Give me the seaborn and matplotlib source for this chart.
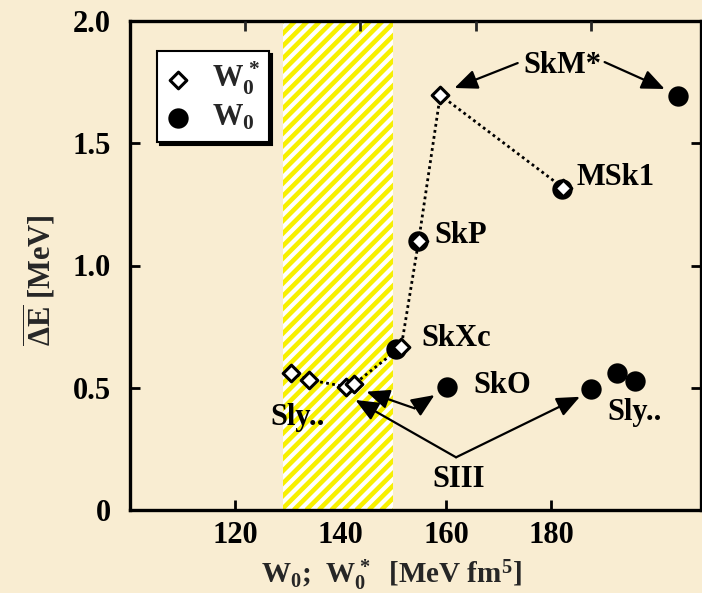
import matplotlib
matplotlib.use('Agg')
import matplotlib.pyplot as plt
import seaborn as sns
import numpy as np
import pandas as pd
from matplotlib.collections import LineCollection
from matplotlib.transforms import IdentityTransform, Bbox, TransformedBbox

# ---------------- data ----------------
w0star_x = [130.6, 134.0, 141.1, 142.5, 151.5, 154.8, 158.9, 182.2]
w0star_y = [0.562, 0.532, 0.504, 0.514, 0.668, 1.101, 1.697, 1.318]
w0_x = [150.5, 154.6, 182.0, 160.1, 204.0, 187.6, 192.5, 195.9]
w0_y = [0.658, 1.100, 1.312, 0.502, 1.695, 0.496, 0.559, 0.529]
band_range = [129.0, 150.0]
xticks = [120, 140, 160, 180]
yticks = [0, 0.5, 1.0, 1.5, 2.0]
ytick_labels = ['0', '0.5', '1.0', '1.5', '2.0']
top_ticks = [121.8, 143.6, 165.7, 187.5]
xlim = [100, 208.4]
ylim = [0, 2.0]

BG = '#F9EDD2'

sns.set_style('ticks')
plt.rcParams['font.family'] = ['Liberation Serif', 'DejaVu Serif']
plt.rcParams['font.weight'] = 'bold'
plt.rcParams['mathtext.fontset'] = 'custom'
plt.rcParams['mathtext.rm'] = 'Liberation Serif:bold'
plt.rcParams['mathtext.it'] = 'Liberation Serif:bold'
plt.rcParams['mathtext.bf'] = 'Liberation Serif:bold'

fig = plt.figure(figsize=(7.02, 5.93), dpi=100, facecolor=BG)
ax = fig.add_axes([130 / 702, 83 / 593, 571 / 702, 489 / 593])
ax.set_facecolor(BG)
ax.set_xlim(*xlim)
ax.set_ylim(*ylim)

# hatched band
band = ax.axvspan(band_range[0], band_range[1], facecolor='white', lw=0, zorder=1)
p0 = ax.transData.transform((band_range[0], ylim[0]))
p1 = ax.transData.transform((band_range[1], ylim[1]))
H = p1[1] - p0[1]
period = 12.5
segs = []
u = p0[0] - H
while u < p1[0] + period:
    segs.append([(u, p0[1]), (u + H, p1[1])])
    u += period
lc = LineCollection(segs, colors='#F7F000', linewidths=3.3, transform=IdentityTransform(), zorder=1.5)
ax.add_collection(lc, autolim=False)
lc.set_clip_box(TransformedBbox(Bbox([[band_range[0], ylim[0]], [band_range[1], ylim[1]]]), ax.transData))
lc.set_clip_path(None)
lc.set_clip_on(True)

df_star = pd.DataFrame({'x': w0star_x, 'y': w0star_y})
df_w0 = pd.DataFrame({'x': w0_x, 'y': w0_y})

sns.lineplot(data=df_star, x='x', y='y', sort=False, ax=ax, color='black',
             linestyle=(0, (1, 1.2)), lw=2.0, zorder=2, legend=False)
sns.scatterplot(data=df_w0, x='x', y='y', ax=ax, marker='o', s=215, color='black',
                edgecolor='black', linewidth=0, zorder=3, label=r'$W_0$')
sns.scatterplot(data=df_star, x='x', y='y', ax=ax, marker='D', s=72, color='white',
                edgecolor='black', linewidth=2.2, zorder=4, label=r'$W_0^*$')

# annotations
tkw = dict(fontsize=22, fontweight='bold', color='black', zorder=6)
ax.text(182.0, 1.820, 'SkM*', ha='center', va='center', **tkw)
ax.text(184.8, 1.358, 'MSk1', ha='left', va='center', **tkw)
ax.text(157.8, 1.121, 'SkP', ha='left', va='center', **tkw)
ax.text(155.4, 0.703, 'SkXc', ha='left', va='center', **tkw)
ax.text(165.2, 0.511, 'SkO', ha='left', va='center', **tkw)
ax.text(131.9, 0.380, 'Sly..', ha='center', va='center', **tkw)
ax.text(195.8, 0.397, 'Sly..', ha='center', va='center', **tkw)
ax.text(162.4, 0.123, 'SIII', ha='center', va='center', **tkw)

akw = dict(arrowstyle='-|>,head_length=0.7,head_width=0.3', color='black', lw=1.6,
           shrinkA=0, shrinkB=0, mutation_scale=20)
arrows = [
    ((173.6, 1.828), (161.6, 1.726)),
    ((190.1, 1.832), (201.5, 1.722)),
    ((161.9, 0.2155), (142.8, 0.450)),
    ((161.9, 0.2155), (185.4, 0.463)),
    ((154.0, 0.416), (144.9, 0.484)),
    ((154.0, 0.416), (157.8, 0.470)),
]
for start, tip in arrows:
    ax.annotate('', xy=tip, xytext=start, arrowprops=akw, zorder=5)

# axes styling
ax.set_xticks(xticks)
ax.set_xticklabels([str(t) for t in xticks])
ax.set_yticks(yticks)
ax.set_yticklabels(ytick_labels)
ax.tick_params(axis='both', direction='in', length=7, width=2, labelsize=22,
               colors='black')
ax.tick_params(axis='y', right=True, pad=14)
ax.tick_params(axis='x', pad=8)
for lab in ax.get_xticklabels() + ax.get_yticklabels():
    lab.set_fontweight('bold')
for s in ax.spines.values():
    s.set_linewidth(2.4)
    s.set_color('black')
    s.set_visible(True)

ax2 = ax.twiny()
ax2.set_xlim(*xlim)
ax2.set_xticks(top_ticks)
ax2.set_xticklabels([])
ax2.tick_params(axis='x', direction='in', length=7, width=2)
for s in ax2.spines.values():
    s.set_visible(False)

ax.set_xlabel(r'$W_0$;  $W_0^*$  [MeV fm$^5$]', fontsize=21, fontweight='bold')
ax.xaxis.set_label_coords(0.458, -0.133)
ax.xaxis.label.set_va('center')
ax.set_ylabel(r'$\overline{\Delta E}$ [MeV]', fontsize=22, fontweight='bold')
ax.yaxis.set_label_coords(-0.159, 0.470)
ax.yaxis.label.set_va('center')

# legend
h, l = ax.get_legend_handles_labels()
order = [l.index(r'$W_0^*$'), l.index(r'$W_0$')]
leg = ax.legend([h[i] for i in order], [l[i] for i in order], loc='upper left',
                bbox_to_anchor=(0.047, 0.939), borderaxespad=0, fancybox=False,
                shadow={'color': 'black', 'alpha': 1}, framealpha=1,
                facecolor='white', edgecolor='black', fontsize=22,
                handletextpad=0.7, labelspacing=0.2, borderpad=0.3,
                handlelength=0.8)
leg.get_frame().set_linewidth(1.5)
leg.set_zorder(10)

fig.savefig('out.png', dpi=100, facecolor=BG)
